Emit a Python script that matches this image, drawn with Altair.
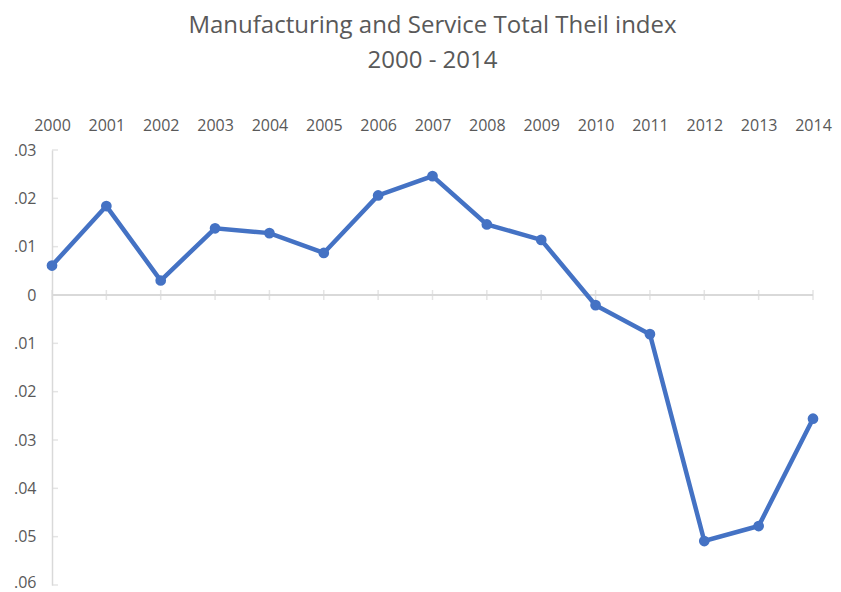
import altair as alt
import pandas as pd

years = list(range(2000, 2015))
theil = [0.0061, 0.0184, 0.0030, 0.0138, 0.0128, 0.0087, 0.0206, 0.0246,
         0.0146, 0.0114, -0.0021, -0.0081, -0.0509, -0.0478, -0.0256]
y_ticks = [0.03, 0.02, 0.01, 0.0, -0.01, -0.02, -0.03, -0.04, -0.05, -0.06]

df = pd.DataFrame({"year": years, "value": theil})
ticks_df = pd.DataFrame({"t": y_ticks})
zero_df = pd.DataFrame({"year": years, "zero": [0.0] * len(years)})

FONT = "Open Sans"
GRAY = "#595959"
LINE_GRAY = "#D9D9D9"
BLUE = "#4472C4"

xscale = alt.Scale(domain=[2000, 2014], nice=False, zero=False)
yscale = alt.Scale(domain=[-0.06, 0.03], nice=False, zero=False)

x_enc = alt.X("year:Q", scale=xscale,
              axis=alt.Axis(orient="top", values=years, format="d", ticks=False,
                            domain=False, grid=False, labelFont=FONT, labelFontSize=16,
                            labelColor=GRAY, labelPadding=17, title=None,
                            labelFlush=False, labelOverlap=False, labelBound=False))
y_enc = alt.Y("value:Q", scale=yscale,
              axis=alt.Axis(values=y_ticks, ticks=False, domain=True,
                            domainColor=LINE_GRAY, domainWidth=1.5, grid=False,
                            labelFont=FONT, labelFontSize=16, labelColor=GRAY,
                            labelPadding=16, title=None, labelFlush=False,
                            labelOverlap=False,
                            labelOffset={"condition": {"test": "datum.value < -0.059", "value": -3},
                                         "value": 0},
                            labelExpr="datum.value == 0 ? '0' : '.0' + format(abs(datum.value) * 100, '.0f')"))

zero_rule = alt.Chart(zero_df).mark_rule(color=LINE_GRAY, strokeWidth=1.5).encode(
    y=alt.Y("zero:Q", scale=yscale),
    x=alt.value(0), x2=alt.value(761))

x_ticks = alt.Chart(zero_df).mark_tick(color=LINE_GRAY, orient="vertical",
                                       thickness=1.5, size=10).encode(
    x=alt.X("year:Q", scale=xscale), y=alt.Y("zero:Q", scale=yscale))

y_tick_marks = alt.Chart(ticks_df).mark_tick(color=LINE_GRAY, orient="horizontal",
                                             thickness=1.5, size=6).encode(
    y=alt.Y("t:Q", scale=yscale), x=alt.value(3))

line = alt.Chart(df).mark_line(color=BLUE, strokeWidth=4.5).encode(x=x_enc, y=y_enc)
points = alt.Chart(df).mark_circle(color=BLUE, size=115, opacity=1).encode(
    x=alt.X("year:Q", scale=xscale), y=alt.Y("value:Q", scale=yscale))

chart = alt.layer(zero_rule, x_ticks, y_tick_marks, line, points).properties(
    width=761, height=435,
    title=alt.TitleParams(
        text=["Manufacturing and Service Total Theil index", "2000 - 2014"],
        font=FONT, fontSize=24, fontWeight="normal", color=GRAY,
        anchor="middle", frame="group", lineHeight=35, offset=44),
    autosize=alt.AutoSizeParams(type="none"),
    padding={"left": 44, "top": 142, "right": 20, "bottom": 12},
).configure(background="white", view=alt.ViewConfig(stroke=None))

chart.save("out.html", embed_options={"renderer": "svg", "actions": False})
